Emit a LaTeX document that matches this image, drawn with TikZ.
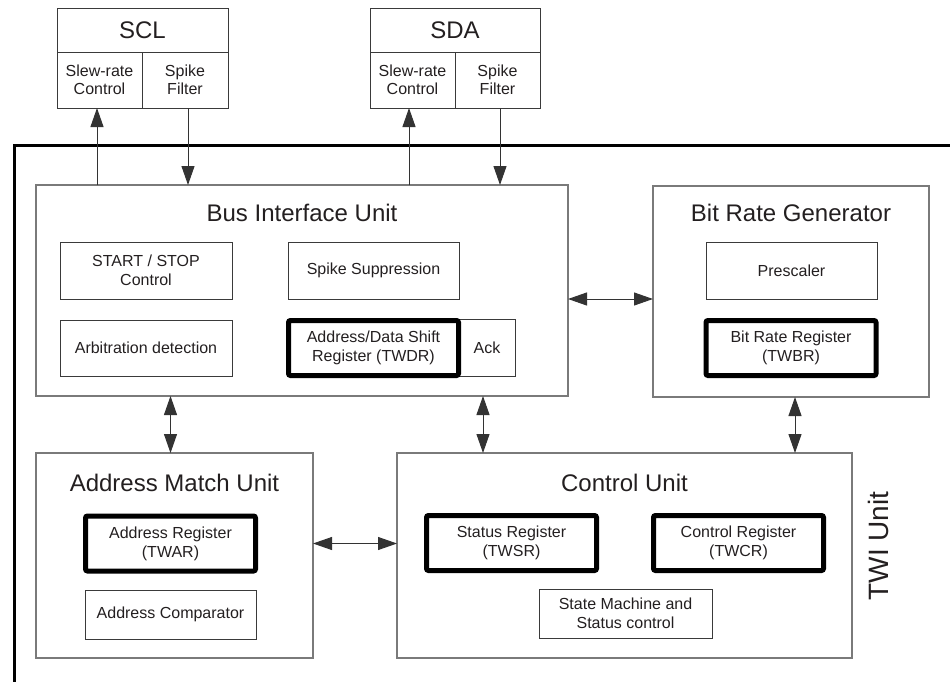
\documentclass[tikz,border=0pt]{standalone}
\usepackage{fontspec}
\setmainfont{Liberation Sans}
\usetikzlibrary{arrows.meta}
\definecolor{txt}{HTML}{231F20}
\definecolor{unitgray}{HTML}{7A7A7A}
\definecolor{subgray}{HTML}{3A3A3A}
\definecolor{arrgray}{HTML}{333333}
\begin{document}
\begin{tikzpicture}[x=1pt,y=-1pt,
  every node/.style={inner sep=0pt, outer sep=0pt, text=txt, align=center},
  unit/.style={draw=unitgray, line width=1.3pt, rectangle},
  sub/.style={draw=subgray, line width=1pt, rectangle, font=\fontsize{16}{19}\selectfont},
  reg/.style={draw=black, line width=5pt, rectangle, rounded corners=2pt, minimum width=170pt, minimum height=55pt, font=\fontsize{16}{19}\selectfont},
  ttl/.style={font=\fontsize{24}{28}\selectfont},
  pin/.style={draw=subgray, line width=1pt, rectangle, font=\fontsize{16}{18.5}\selectfont},
  tip/.tip={Triangle[length=19pt,width=13pt]},
  arr/.style={-tip, line width=1pt, draw=arrgray, fill=black},
  darr/.style={tip-tip, line width=1pt, draw=arrgray, fill=black},
  frame/.style={draw=black, line width=3pt}
]
\useasboundingbox (0,0) rectangle (950,681);

% outer TWI frame
\draw[frame] (14,690) -- (14,145) -- (960,145);

% SCL block
\node[pin, minimum width=171pt, minimum height=44pt, font=\fontsize{24}{28}\selectfont] (scl) at (142.5,30) {SCL};
\node[pin, minimum width=85pt, minimum height=56pt] (sclslew) at (99.5,80) {Slew-rate\\Control};
\node[pin, minimum width=86pt, minimum height=56pt] (sclspike) at (185,80) {Spike\\Filter};

% SDA block
\node[pin, minimum width=170pt, minimum height=44pt, font=\fontsize{24}{28}\selectfont] (sda) at (455,30) {SDA};
\node[pin, minimum width=85pt, minimum height=56pt] (sdaslew) at (412.5,80) {Slew-rate\\Control};
\node[pin, minimum width=85pt, minimum height=56pt] (sdaspike) at (497.5,80) {Spike\\Filter};

% Bus Interface Unit
\node[unit, minimum width=532pt, minimum height=211pt] (biu) at (302,290.5) {};
\node[ttl] (biut) at (302,213) {Bus Interface Unit};
\node[sub, minimum width=172pt, minimum height=57pt] (ss) at (146,270.5) {START / STOP\\Control};
\node[sub, minimum width=172pt, minimum height=56pt] (arb) at (146,348) {Arbitration detection};
\node[sub, minimum width=171pt, minimum height=57pt] (spk) at (373.5,270.5) {Spike Suppression};
\node[sub, minimum width=56pt, minimum height=57pt] (ack) at (487,347.5) {Ack};
\node[reg] (twdr) at (373.5,348) {Address/Data Shift\\Register (TWDR)};

% Bit Rate Generator
\node[unit, minimum width=276pt, minimum height=211pt] (brg) at (791,291.5) {};
\node[ttl] (brgt) at (791,213) {Bit Rate Generator};
\node[sub, minimum width=171pt, minimum height=57pt] (pre) at (791.5,270.5) {Prescaler};
\node[reg] (twbr) at (791,348) {Bit Rate Register\\(TWBR)};

% Address Match Unit
\node[unit, minimum width=277pt, minimum height=205pt] (amu) at (174.5,555.5) {};
\node[ttl] (amut) at (174.5,483) {Address Match Unit};
\node[reg] (twar) at (170.5,543.5) {Address Register\\(TWAR)};
\node[sub, minimum width=171pt, minimum height=49pt] (cmp) at (170.5,614.5) {Address Comparator};

% Control Unit
\node[unit, minimum width=455pt, minimum height=205pt] (cu) at (624.5,555.5) {};
\node[ttl] (cut) at (624.5,483) {Control Unit};
\node[reg] (twsr) at (511.5,543) {Status Register\\(TWSR)};
\node[reg] (twcr) at (738.5,543) {Control Register\\(TWCR)};
\node[sub, minimum width=173pt, minimum height=49pt] (sm) at (625.5,613.5) {State Machine and\\Status control};

% TWI Unit label
\node[rotate=90, font=\fontsize{28}{32}\selectfont] (twi) at (878,546) {TWI Unit};

% connectors to pins
\draw[arr] ([xshift=-2.5pt]sclslew.south |- biu.north) -- ([xshift=-2.5pt]sclslew.south);
\draw[arr] ([xshift=3pt]sclspike.south) -- ([xshift=3pt]sclspike.south |- biu.north);
\draw[arr] ([xshift=-3.5pt]sdaslew.south |- biu.north) -- ([xshift=-3.5pt]sdaslew.south);
\draw[arr] ([xshift=2.5pt]sdaspike.south) -- ([xshift=2.5pt]sdaspike.south |- biu.north);

% internal connectors
\coordinate (xa) at (483,0);
\coordinate (xb) at (795,0);
\draw[darr] (biu.east |- pre.south) -- (brg.west |- pre.south);
\draw[darr] (biu.south -| twar.south) -- (amu.north -| twar.south);
\draw[darr] (biu.south -| xa) -- (cu.north -| xa);
\draw[darr] (brg.south -| xb) -- (cu.north -| xb);
\draw[darr] (amu.east |- twar.center) -- (cu.west |- twar.center);
\end{tikzpicture}
\end{document}
